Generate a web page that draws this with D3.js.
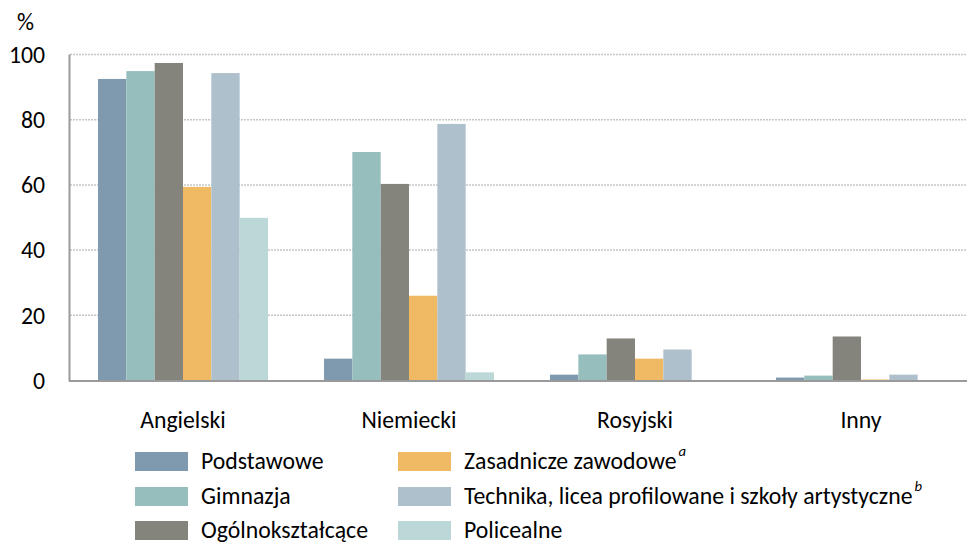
<!DOCTYPE html>
<html><head><meta charset="utf-8">
<script src="https://cdn.jsdelivr.net/npm/d3@7/dist/d3.min.js"></script>
<style>
html,body{margin:0;padding:0;background:#fff;}
svg text{font-family:Carlito, Calibri, Lato, "Open Sans", sans-serif;fill:#000;}
</style></head>
<body><svg id="c" width="967" height="544"></svg>
<script>
const categories = ["Angielski","Niemiecki","Rosyjski","Inny"];
const seriesNames = ["Podstawowe","Gimnazja","Ogólnokształcące","Zasadnicze zawodowe","Technika, licea profilowane i szkoły artystyczne","Policealne"];
const seriesSup = ["","","","a","b",""];
const podstawowe = [92.5, 6.7, 1.8, 0.9];
const gimnazja = [94.9, 70.1, 8.0, 1.5];
const ogolno = [97.4, 60.3, 12.9, 13.5];
const zasadnicze = [59.4, 26.0, 6.7, 0.3];
const technika = [94.3, 78.7, 9.5, 1.8];
const policealne = [49.9, 2.5, 0, 0];
const yTicks = [0,20,40,60,80,100];
const colors = ["#7f9aae","#95bebd","#84847d","#f0b964","#aec0cb","#bcd7d7"];

const values = [podstawowe,gimnazja,ogolno,zasadnicze,technika,policealne];
const svg = d3.select("#c");
const W = 967;

// font size fit to reference text width
const probe = svg.append("text").attr("font-size",100).text("Ogólnokształcące");
const fs = 167 / probe.node().getComputedTextLength() * 100;
probe.remove();

const y = d3.scaleLinear().domain([0,100]).range([380.5,54.5]);
const x0 = d3.scaleBand().domain(categories).range([70,974]).paddingInner(0.248).paddingOuter(0.124);
const x1 = d3.scaleBand().domain(seriesNames).range([0,x0.bandwidth()]);

// gridlines
svg.append("g").selectAll("line").data(yTicks.filter(d=>d>0)).join("line")
  .attr("x1",70).attr("x2",W).attr("y1",d=>y(d)).attr("y2",d=>y(d))
  .attr("stroke","#c6c6c6").attr("stroke-width",1.5).attr("stroke-dasharray","2,1");

// bars
const g = svg.append("g");
seriesNames.forEach((s,si)=>{
  g.selectAll(null).data(categories).join("rect")
    .attr("x",c=>x0(c)+x1(s))
    .attr("width",x1.bandwidth())
    .attr("y",(c,ci)=>y(values[si][ci]))
    .attr("height",(c,ci)=>y(0)-y(values[si][ci]))
    .attr("fill",colors[si]);
});

// axes lines
svg.append("line").attr("x1",69.5).attr("x2",69.5).attr("y1",y(100)).attr("y2",y(0)+1)
  .attr("stroke","#9a9a9a").attr("stroke-width",2);
svg.append("line").attr("x1",69).attr("x2",W).attr("y1",y(0)+0.5).attr("y2",y(0)+0.5)
  .attr("stroke","#9a9a9a").attr("stroke-width",2);

// y tick labels
svg.append("g").selectAll("text").data(yTicks).join("text")
  .attr("x",45).attr("y",d=>y(d)).attr("dy","0.35em").attr("text-anchor","end")
  .attr("font-size",fs).text(d=>d);
svg.append("text").attr("x",17).attr("y",30).attr("font-size",fs).text("%");

// category labels
svg.append("g").selectAll("text").data(categories).join("text")
  .attr("x",c=>x0(c)+x0.bandwidth()/2).attr("y",428).attr("text-anchor","middle")
  .attr("font-size",fs).text(c=>c);

// legend
const legPos = [[135,452],[135,487],[135,521],[398,452],[398,487],[398,521]];
seriesNames.forEach((s,i)=>{
  const [lx,ly] = legPos[i];
  svg.append("rect").attr("x",lx).attr("y",ly).attr("width",53).attr("height",19).attr("fill",colors[i]);
  const t = svg.append("text").attr("x",lx+66).attr("y",ly+8.5).attr("dy","0.35em").attr("font-size",fs);
  t.append("tspan").text(s);
  if(seriesSup[i]){
    t.append("tspan").attr("font-size",fs*0.62).attr("font-style","italic").attr("dx",2).attr("dy","-0.9em").text(seriesSup[i]);
  }
});
</script></body></html>
